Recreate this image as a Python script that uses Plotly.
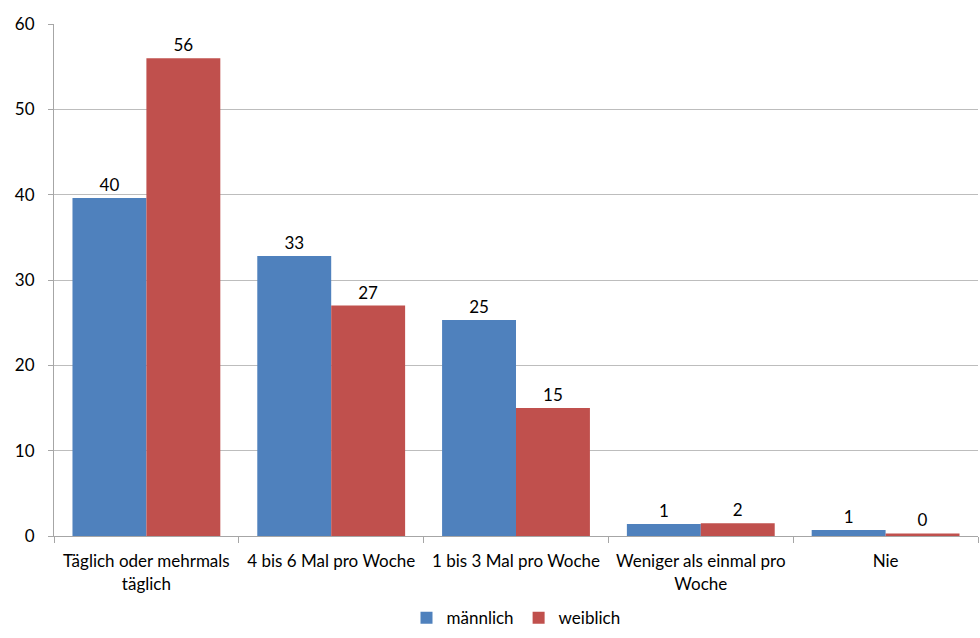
import plotly.graph_objects as go

categories = ["Täglich oder mehrmals<br>täglich", "4 bis 6 Mal pro Woche", "1 bis 3 Mal pro Woche",
              "Weniger als einmal pro<br>Woche", "Nie"]
maennlich = [39.6, 32.8, 25.3, 1.4, 0.7]
weiblich = [56.0, 27.0, 15.0, 1.5, 0.3]
maennlich_labels = ["40", "33", "25", "1", "1"]
weiblich_labels = ["56", "27", "15", "2", "0"]
y_ticks = [0, 10, 20, 30, 40, 50, 60]

font = dict(family="Lato, 'Open Sans', sans-serif", size=17, color="#000000")

fig = go.Figure()
fig.add_trace(go.Bar(name="männlich", x=categories, y=maennlich, text=maennlich_labels,
                     textposition="outside", marker_color="#4F81BD", marker_line_width=0,
                     cliponaxis=False, textfont=font))
fig.add_trace(go.Bar(name="weiblich", x=categories, y=weiblich, text=weiblich_labels,
                     textposition="outside", marker_color="#C0504D", marker_line_width=0,
                     cliponaxis=False, textfont=font))

fig.update_layout(
    width=980, height=638,
    margin=dict(l=54, r=2, t=24, b=102, autoexpand=False),
    barmode="group", bargap=0.2, bargroupgap=0,
    plot_bgcolor="white", paper_bgcolor="white",
    font=font,
    showlegend=True,
    legend=dict(orientation="h", x=0.5, xanchor="center", yref="container", y=0.031,
                yanchor="middle", font=dict(size=17)),
    xaxis=dict(showline=True, linecolor="#A6A6A6", linewidth=1, ticks="outside",
               tickson="boundaries", ticklen=6, tickcolor="#A6A6A6", showgrid=False,
               automargin=False, ticklabelstandoff=10),
    yaxis=dict(range=[0, 60], tickvals=y_ticks, showline=True, linecolor="#A6A6A6",
               linewidth=1, ticks="outside", ticklen=5, tickcolor="#A6A6A6",
               gridcolor="#BDBDBD", gridwidth=1, zeroline=False, ticklabelstandoff=10,
               automargin=False),
)

fig.write_html("out.html", config={"displayModeBar": False},
               post_script="document.body.style.margin='0';document.body.style.overflow='hidden';")
